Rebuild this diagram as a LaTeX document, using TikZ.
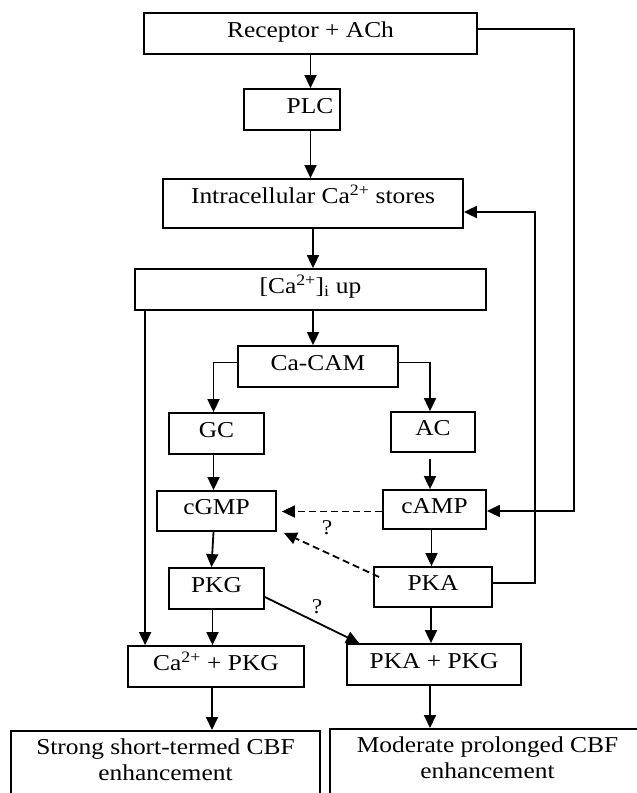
\documentclass[tikz,border=0pt]{standalone}
\usepackage{fontspec}
\setmainfont[FakeStretch=1.12]{Liberation Serif}
\usetikzlibrary{arrows.meta}

\begin{document}
\begin{tikzpicture}[x=1pt, y=-1pt, >={Triangle[length=13pt,width=12pt]}, line width=1.8pt,
    font=\fontsize{22.7}{26}\selectfont]
    \tikzstyle{block}=[rectangle, draw, inner sep=0pt, minimum height=41pt, text height=15pt, text depth=8pt]
    \tikzstyle{outcome}=[rectangle, draw, anchor=north, align=center, inner xsep=0pt, inner ysep=8pt, text depth=20pt]
    \tikzstyle{maybe}=[dash pattern=on 7pt off 4pt]
    \tikzstyle{qmark}=[inner sep=0pt, font=\fontsize{21}{21}\selectfont]

    \useasboundingbox (0,0) rectangle (637,793);
    \clip (0,0) rectangle (637,793);

    \node[block, minimum width=333pt] (rec) at (310.5,33.5) {Receptor + ACh};
    \node[block, minimum width=96pt] (plc) at (292,109.5) {\hspace*{36pt}PLC};
    \node[block, minimum width=300pt, minimum height=49pt, text depth=16pt] (intra) at (313,203.5) {Intracellular Ca\textsuperscript{2+} stores};
    \node[block, minimum width=351pt] (caup) at (310.5,289.5) {[Ca\textsuperscript{2+}]\textsubscript{i} up};
    \node[block, minimum width=160pt] (cacam) at (318,366.5) {Ca-CAM};
    \node[block, minimum width=95pt] (gc) at (216.5,433.5) {GC};
    \node[block, minimum width=84pt, minimum height=40pt] (ac) at (433,432) {AC};
    \node[block, minimum width=119pt, minimum height=40pt] (cgmp) at (216.5,511) {cGMP};
    \node[block, minimum width=103pt, minimum height=39pt] (camp) at (434.5,509.5) {cAMP};
    \node[block, minimum width=95pt] (pkg) at (216.5,588.5) {PKG};
    \node[block, minimum width=118pt, minimum height=40pt] (pka) at (433,587) {PKA};
    \node[block, minimum width=176pt] (capkg) at (216,666.5) {Ca\textsuperscript{2+} + PKG};
    \node[block, minimum width=174pt] (papkg) at (434,664.5) {PKA + PKG};
    \node[outcome, minimum width=309pt] (strong) at (165.5,730) {Strong short-termed CBF\\enhancement};
    \node[outcome, minimum width=315pt] (moder) at (487.5,728) {Moderate prolonged CBF\\enhancement};

    \node[qmark] (q1) at (327,528) {?};
    \node[qmark] (q2) at (317,607) {?};

    \draw[->] (rec.south) -- (rec.south |- plc.north);
    \draw[->] (rec.south |- plc.south) -- (rec.south |- intra.north);
    \draw[->] (intra.south) -- (intra.south |- caup.north);
    \draw[->] (intra.south |- caup.south) -- (intra.south |- cacam.north);
    \draw[->] ([yshift=4pt]cacam.west) -| ([xshift=-3pt]gc.north);
    \draw[->] ([yshift=4pt]cacam.east) -| ([xshift=-3pt]ac.north);
    \draw[->] ([xshift=-3pt]gc.south) -- ([xshift=-3pt]cgmp.north);
    \draw[->] ([xshift=-3pt,yshift=-6pt]ac.south) -- ([xshift=-3pt]ac.south |- camp.north);
    \draw[->, maybe, shorten >=5pt] ([yshift=-2pt]camp.west) -- ([yshift=-2pt]camp.west -| cgmp.east);
    \draw[->, maybe] ([xshift=6pt,yshift=10pt]pka.west) -- ([xshift=7pt,yshift=-1pt]cgmp.south east);
    \draw[->] ([xshift=-3pt]cgmp.south) -- ([xshift=-5pt]pkg.north);
    \draw[->] ([xshift=-3pt]camp.south) -- ([xshift=-3pt]camp.south |- pka.north);
    \draw[->] ([yshift=-8.5pt]pkg.east) -- ([xshift=13pt]papkg.north west);
    \draw[->] ([xshift=-2pt]pka.south) -- ([xshift=-2pt]pka.south |- papkg.north);
    \draw[->] ([xshift=-4pt]pkg.south) -- ([xshift=-4pt]pkg.south |- capkg.north);
    \draw[->] ([xshift=11pt]caup.south west) -- ([xshift=11pt]caup.south west |- capkg.north);
    \draw[->] ([xshift=-4pt]capkg.south) -- ([xshift=-4pt]capkg.south |- strong.north);
    \draw[->] ([xshift=-4pt]papkg.south) -- ([xshift=-4pt]papkg.south |- moder.north);
    \draw[->] ([yshift=4.5pt]rec.east) -- ++(96,0) |- ([yshift=-1.5pt]camp.east);
    \draw[->] ([yshift=4pt]pka.east) -- ++(42,0) |- ([yshift=-8.5pt]intra.east);

\end{tikzpicture}
\end{document}
